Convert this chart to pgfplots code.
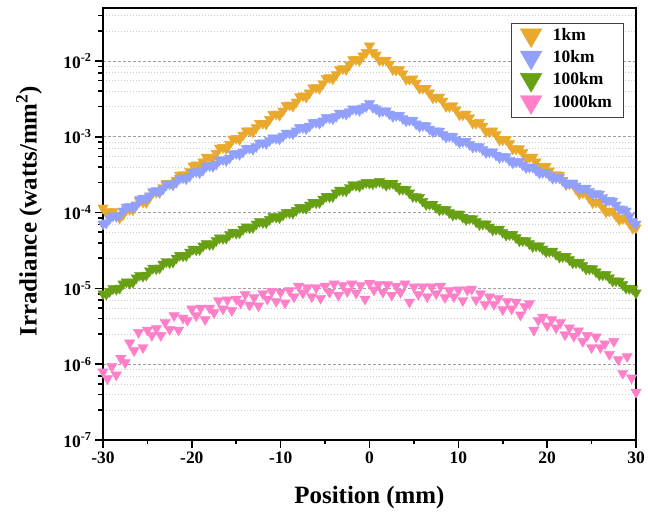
\documentclass[border=0pt]{standalone}
\usepackage{fontspec}
\setmainfont{Liberation Serif}
\usepackage{pgfplots}
\pgfplotsset{compat=1.18}

\definecolor{cA}{RGB}{233,169,45}
\definecolor{cB}{RGB}{144,160,252}
\definecolor{cC}{RGB}{104,160,20}
\definecolor{cD}{RGB}{255,128,200}

\begin{document}
\begin{tikzpicture}
\begin{axis}[
  scale only axis, width=533bp, height=432bp,
  ymode=log,
  xmin=-30, xmax=30, ymin=1e-7, ymax=5e-2,
  axis line style={line width=2.2bp},
  tick align=outside, xtick pos=bottom, ytick pos=left,
  major tick length=8bp, minor tick length=4.5bp,
  every tick/.style={black, line width=1.6bp},
  xtick={-30,-20,...,30},
  minor xtick={-25,-15,...,25},
  xticklabels={\textbf{-30},\textbf{-20},\textbf{-10},\textbf{0},\textbf{10},\textbf{20},\textbf{30}},
  ytick={1e-7,1e-6,1e-5,1e-4,1e-3,1e-2},
  yticklabels={\textbf{10\textsuperscript{-7}},\textbf{10\textsuperscript{-6}},\textbf{10\textsuperscript{-5}},\textbf{10\textsuperscript{-4}},\textbf{10\textsuperscript{-3}},\textbf{10\textsuperscript{-2}}},
  minor ytick={2.5e-7,4e-7,5.5e-7,7e-7,8.5e-7,
               2.5e-6,4e-6,5.5e-6,7e-6,8.5e-6,
               2.5e-5,4e-5,5.5e-5,7e-5,8.5e-5,
               2.5e-4,4e-4,5.5e-4,7e-4,8.5e-4,
               2.5e-3,4e-3,5.5e-3,7e-3,8.5e-3,
               2.5e-2,4e-2},
  ymajorgrids, yminorgrids,
  major grid style={gray!75, line width=0.6bp, dash pattern=on 3bp off 2bp},
  minor grid style={gray!40, line width=0.6bp, dash pattern=on 1bp off 2bp},
  tick label style={font=\fontsize{17.5}{17.5}\selectfont},
  xlabel={\textbf{Position (mm)}},
  ylabel={\textbf{Irradiance (watts/mm\textsuperscript{2})}},
  label style={font=\fontsize{25}{25}\selectfont},
  xlabel style={at={(axis description cs:0.5,-0.132)}, anchor=center},
  ylabel style={at={(axis description cs:-0.139,0.53)}, anchor=center},
  legend style={at={(0.976,0.965)}, anchor=north east, draw=black!75,
    font=\fontsize{17.5}{17.5}\selectfont\bfseries,
    inner xsep=9bp, inner ysep=3bp, row sep=1bp,
    /tikz/every odd column/.append style={column sep=9bp}},
  legend cell align=left,
  legend image post style={mark size=12.5bp},
]
\addplot[only marks, mark=triangle*, mark size=6bp, mark options={rotate=180, fill=cA, draw=cA}] coordinates {
(-30,1.15e-4) (-29.25,1.02e-4) (-28.5,9.12e-5) (-27.75,9.33e-5) (-27,1.10e-4) (-26.25,1.26e-4)
(-25.5,1.38e-4) (-24.75,1.58e-4) (-24,1.86e-4) (-23.25,2.14e-4) (-22.5,2.40e-4) (-21.75,2.69e-4)
(-21,3.16e-4) (-20.25,3.47e-4) (-19.5,4.27e-4) (-18.75,4.68e-4) (-18,5.37e-4) (-17.25,6.03e-4)
(-16.5,7.24e-4) (-15.75,7.94e-4) (-15,9.55e-4) (-14.25,1.05e-3) (-13.5,1.20e-3) (-12.75,1.32e-3)
(-12,1.51e-3) (-11.25,1.70e-3) (-10.5,2.00e-3) (-9.75,2.19e-3) (-9,2.63e-3) (-8.25,2.88e-3)
(-7.5,3.47e-3) (-6.75,3.80e-3) (-6,4.47e-3) (-5.25,5.01e-3) (-4.5,6.03e-3) (-3.75,6.61e-3)
(-3,7.94e-3) (-2.25,8.91e-3) (-1.5,1.05e-2) (-0.75,1.17e-2) (0,1.58e-2)
(0.75,1.20e-2) (1.5,1.02e-2) (2.25,9.12e-3) (3,7.59e-3) (3.75,6.76e-3) (4.5,5.75e-3)
(5.25,5.13e-3) (6,4.37e-3) (6.75,3.80e-3) (7.5,3.31e-3) (8.25,2.95e-3) (9,2.51e-3)
(9.75,2.29e-3) (10.5,1.95e-3) (11.25,1.78e-3) (12,1.51e-3) (12.75,1.38e-3) (13.5,1.17e-3)
(14.25,1.07e-3) (15,9.12e-4) (15.75,8.13e-4) (16.5,6.92e-4) (17.25,6.17e-4) (18,5.37e-4)
(18.75,4.68e-4) (19.5,4.07e-4) (20.25,3.55e-4) (21,3.16e-4) (21.75,2.69e-4) (22.5,2.40e-4)
(23.25,2.04e-4) (24,1.82e-4) (24.75,1.55e-4) (25.5,1.38e-4) (26.25,1.17e-4) (27,1.05e-4)
(27.75,9.12e-5) (28.5,8.32e-5) (29.25,7.24e-5) (30,6.31e-5)
(-29.625,1.00e-4) (-28.875,1.03e-4) (-28.125,8.49e-5) (-27.375,1.09e-4) (-26.625,1.09e-4)
(-25.875,1.41e-4) (-25.125,1.36e-4) (-24.375,1.84e-4) (-23.625,1.84e-4) (-22.875,2.43e-4)
(-22.125,2.34e-4) (-21.375,3.13e-4) (-20.625,3.05e-4) (-19.875,4.14e-4) (-19.125,4.12e-4)
(-18.375,5.38e-4) (-17.625,5.24e-4) (-16.875,7.10e-4) (-16.125,6.98e-4) (-15.375,9.36e-4)
(-14.625,9.22e-4) (-13.875,1.20e-3) (-13.125,1.16e-3) (-12.375,1.51e-3) (-11.625,1.48e-3)
(-10.875,1.98e-3) (-10.125,1.93e-3) (-9.375,2.58e-3) (-8.625,2.53e-3) (-7.875,3.40e-3)
(-7.125,3.34e-3) (-6.375,4.42e-3) (-5.625,4.36e-3) (-4.875,5.91e-3) (-4.125,5.81e-3)
(-3.375,7.78e-3) (-2.625,7.75e-3) (-1.875,1.04e-2) (-1.125,1.02e-2) (-0.375,1.30e-2)
(0.375,1.30e-2) (1.125,1.02e-2) (1.875,1.03e-2) (2.625,7.69e-3) (3.375,7.68e-3)
(4.125,5.75e-3) (4.875,5.82e-3) (5.625,4.37e-3) (6.375,4.37e-3) (7.125,3.27e-3)
(7.875,3.35e-3) (8.625,2.51e-3) (9.375,2.57e-3) (10.125,1.95e-3) (10.875,2.00e-3)
(11.625,1.51e-3) (12.375,1.55e-3) (13.125,1.17e-3) (13.875,1.20e-3) (14.625,9.12e-4)
(15.375,9.23e-4) (16.125,6.92e-4) (16.875,7.00e-4) (17.625,5.31e-4) (18.375,5.38e-4)
(19.125,4.03e-4) (19.875,4.08e-4) (20.625,3.09e-4) (21.375,3.13e-4) (22.125,2.34e-4)
(22.875,2.38e-4) (23.625,1.78e-4) (24.375,1.80e-4) (25.125,1.35e-4) (25.875,1.36e-4)
(26.625,1.02e-4) (27.375,1.05e-4) (28.125,8.02e-5) (28.875,8.32e-5) (29.625,6.23e-5)
};
\addlegendentry{1km}
\addplot[only marks, mark=triangle*, mark size=6bp, mark options={rotate=180, fill=cB, draw=cB}] coordinates {
(-30,7.08e-5) (-29.25,8.32e-5) (-28.5,8.91e-5) (-27.75,1.05e-4) (-27,1.20e-4) (-26.25,1.26e-4)
(-25.5,1.55e-4) (-24.75,1.66e-4) (-24,1.95e-4) (-23.25,2.04e-4) (-22.5,2.40e-4) (-21.75,2.51e-4)
(-21,2.88e-4) (-20.25,3.02e-4) (-19.5,3.47e-4) (-18.75,3.63e-4) (-18,4.17e-4) (-17.25,4.37e-4)
(-16.5,5.01e-4) (-15.75,5.25e-4) (-15,6.03e-4) (-14.25,6.31e-4) (-13.5,7.08e-4) (-12.75,7.41e-4)
(-12,8.32e-4) (-11.25,8.91e-4) (-10.5,9.55e-4) (-9.75,1.02e-3) (-9,1.12e-3) (-8.25,1.20e-3)
(-7.5,1.32e-3) (-6.75,1.38e-3) (-6,1.55e-3) (-5.25,1.62e-3) (-4.5,1.78e-3) (-3.75,1.86e-3)
(-3,2.04e-3) (-2.25,2.14e-3) (-1.5,2.29e-3) (-0.75,2.40e-3) (0,2.75e-3)
(0.75,2.34e-3) (1.5,2.19e-3) (2.25,2.00e-3) (3,1.91e-3) (3.75,1.74e-3) (4.5,1.66e-3)
(5.25,1.48e-3) (6,1.41e-3) (6.75,1.26e-3) (7.5,1.20e-3) (8.25,1.07e-3) (9,1.02e-3)
(9.75,9.12e-4) (10.5,8.71e-4) (11.25,7.94e-4) (12,7.41e-4) (12.75,6.76e-4) (13.5,6.31e-4)
(14.25,5.75e-4) (15,5.50e-4) (15.75,4.90e-4) (16.5,4.68e-4) (17.25,4.27e-4) (18,3.98e-4)
(18.75,3.63e-4) (19.5,3.39e-4) (20.25,3.09e-4) (21,2.88e-4) (21.75,2.63e-4) (22.5,2.45e-4)
(23.25,2.24e-4) (24,2.09e-4) (24.75,1.91e-4) (25.5,1.78e-4) (26.25,1.58e-4) (27,1.45e-4)
(27.75,1.26e-4) (28.5,1.10e-4) (29.25,8.91e-5) (30,7.08e-5)
(-29.625,7.32e-5) (-28.875,9.05e-5) (-28.125,9.22e-5) (-27.375,1.18e-4) (-26.625,1.17e-4)
(-25.875,1.48e-4) (-25.125,1.52e-4) (-24.375,1.90e-4) (-23.625,1.90e-4) (-22.875,2.33e-4)
(-22.125,2.33e-4) (-21.375,2.83e-4) (-20.625,2.80e-4) (-19.875,3.41e-4) (-19.125,3.37e-4)
(-18.375,4.10e-4) (-17.625,4.06e-4) (-16.875,4.92e-4) (-16.125,4.87e-4) (-15.375,5.92e-4)
(-14.625,5.86e-4) (-13.875,7.03e-4) (-13.125,6.88e-4) (-12.375,8.26e-4) (-11.625,8.18e-4)
(-10.875,9.69e-4) (-10.125,9.38e-4) (-9.375,1.12e-3) (-8.625,1.10e-3) (-7.875,1.32e-3)
(-7.125,1.28e-3) (-6.375,1.54e-3) (-5.625,1.51e-3) (-4.875,1.79e-3) (-4.125,1.73e-3)
(-3.375,2.05e-3) (-2.625,1.99e-3) (-1.875,2.33e-3) (-1.125,2.23e-3) (-0.375,2.50e-3)
(0.375,2.45e-3) (1.125,2.15e-3) (1.875,2.20e-3) (2.625,1.86e-3) (3.375,1.92e-3)
(4.125,1.62e-3) (4.875,1.65e-3) (5.625,1.37e-3) (6.375,1.40e-3) (7.125,1.17e-3)
(7.875,1.19e-3) (8.625,9.93e-4) (9.375,1.01e-3) (10.125,8.47e-4) (10.875,8.74e-4)
(11.625,7.29e-4) (12.375,7.44e-4) (13.125,6.21e-4) (13.875,6.33e-4) (14.625,5.34e-4)
(15.375,5.46e-4) (16.125,4.55e-4) (16.875,4.70e-4) (17.625,3.92e-4) (18.375,4.00e-4)
(19.125,3.33e-4) (19.875,3.40e-4) (20.625,2.84e-4) (21.375,2.89e-4) (22.125,2.41e-4)
(22.875,2.46e-4) (23.625,2.06e-4) (24.375,2.10e-4) (25.125,1.75e-4) (25.875,1.76e-4)
(26.625,1.44e-4) (27.375,1.42e-4) (28.125,1.12e-4) (28.875,1.05e-4) (29.625,7.60e-5)
};
\addlegendentry{10km}
\addplot[only marks, mark=triangle*, mark size=6bp, mark options={rotate=180, fill=cC, draw=cC}] coordinates {
(-30,8.51e-6) (-29.25,9.12e-6) (-28.5,9.77e-6) (-27.75,1.15e-5) (-27,1.17e-5) (-26.25,1.38e-5)
(-25.5,1.45e-5) (-24.75,1.70e-5) (-24,1.82e-5) (-23.25,2.09e-5) (-22.5,2.19e-5) (-21.75,2.51e-5)
(-21,2.69e-5) (-20.25,3.02e-5) (-19.5,3.24e-5) (-18.75,3.63e-5) (-18,3.80e-5) (-17.25,4.27e-5)
(-16.5,4.57e-5) (-15.75,5.13e-5) (-15,5.37e-5) (-14.25,6.03e-5) (-13.5,6.31e-5) (-12.75,7.08e-5)
(-12,7.41e-5) (-11.25,8.13e-5) (-10.5,8.71e-5) (-9.75,9.33e-5) (-9,1.00e-4) (-8.25,1.07e-4)
(-7.5,1.15e-4) (-6.75,1.26e-4) (-6,1.35e-4) (-5.25,1.51e-4) (-4.5,1.62e-4) (-3.75,1.82e-4)
(-3,1.95e-4) (-2.25,2.14e-4) (-1.5,2.29e-4) (-0.75,2.40e-4) (0,2.45e-4)
(0.75,2.51e-4) (1.5,2.45e-4) (2.25,2.40e-4) (3,2.24e-4) (3.75,2.04e-4) (4.5,1.82e-4)
(5.25,1.62e-4) (6,1.41e-4) (6.75,1.29e-4) (7.5,1.17e-4) (8.25,1.10e-4) (9,1.00e-4)
(9.75,9.55e-5) (10.5,8.71e-5) (11.25,8.32e-5) (12,7.59e-5) (12.75,7.08e-5) (13.5,6.46e-5)
(14.25,6.03e-5) (15,5.50e-5) (15.75,5.13e-5) (16.5,4.68e-5) (17.25,4.27e-5) (18,3.89e-5)
(18.75,3.63e-5) (19.5,3.31e-5) (20.25,3.09e-5) (21,2.82e-5) (21.75,2.63e-5) (22.5,2.40e-5)
(23.25,2.19e-5) (24,2.00e-5) (24.75,1.82e-5) (25.5,1.66e-5) (26.25,1.51e-5) (27,1.38e-5)
(27.75,1.26e-5) (28.5,1.12e-5) (29.25,1.00e-5) (30,8.71e-6)
(-29.625,8.37e-6) (-28.875,9.92e-6) (-28.125,1.01e-5) (-27.375,1.22e-5) (-26.625,1.21e-5)
(-25.875,1.49e-5) (-25.125,1.50e-5) (-24.375,1.85e-5) (-23.625,1.86e-5) (-22.875,2.25e-5)
(-22.125,2.23e-5) (-21.375,2.73e-5) (-20.625,2.71e-5) (-19.875,3.29e-5) (-19.125,3.26e-5)
(-18.375,3.90e-5) (-17.625,3.83e-5) (-16.875,4.64e-5) (-16.125,4.61e-5) (-15.375,5.51e-5)
(-14.625,5.42e-5) (-13.875,6.48e-5) (-13.125,6.36e-5) (-12.375,7.61e-5) (-11.625,7.38e-5)
(-10.875,8.84e-5) (-10.125,8.57e-5) (-9.375,1.01e-4) (-8.625,9.83e-5) (-7.875,1.17e-4)
(-7.125,1.14e-4) (-6.375,1.37e-4) (-5.625,1.36e-4) (-4.875,1.64e-4) (-4.125,1.63e-4)
(-3.375,1.98e-4) (-2.625,1.94e-4) (-1.875,2.33e-4) (-1.125,2.23e-4) (-0.375,2.50e-4)
(0.375,2.41e-4) (1.125,2.58e-4) (1.875,2.30e-4) (2.625,2.44e-4) (3.375,2.03e-4)
(4.125,2.03e-4) (4.875,1.63e-4) (5.625,1.59e-4) (6.375,1.28e-4) (7.125,1.29e-4)
(7.875,1.08e-4) (8.625,1.10e-4) (9.375,9.29e-5) (10.125,9.59e-5) (10.875,8.09e-5)
(11.625,8.35e-5) (12.375,6.97e-5) (13.125,7.11e-5) (13.875,5.93e-5) (14.625,6.05e-5)
(15.375,5.05e-5) (16.125,5.15e-5) (16.875,4.25e-5) (17.625,4.28e-5) (18.375,3.57e-5)
(19.125,3.64e-5) (19.875,3.04e-5) (20.625,3.10e-5) (21.375,2.59e-5) (22.125,2.64e-5)
(22.875,2.18e-5) (23.625,2.20e-5) (24.375,1.81e-5) (25.125,1.83e-5) (25.875,1.51e-5)
(26.625,1.52e-5) (27.375,1.25e-5) (28.125,1.25e-5) (28.875,1.01e-5) (29.625,9.82e-6)
};
\addlegendentry{100km}
\addplot[only marks, mark=triangle*, mark size=6bp, mark options={rotate=180, fill=cD, draw=cD}] coordinates {
(-30,7.94e-7) (-29.5,6.46e-7) (-29,9.33e-7) (-28.5,7.24e-7) (-28,1.20e-6) (-27.5,1.05e-6)
(-27,1.91e-6) (-26.5,1.51e-6) (-26,2.63e-6) (-25.5,1.66e-6) (-25,2.82e-6) (-24.5,2.40e-6)
(-24,2.95e-6) (-23.5,2.40e-6) (-23,3.55e-6) (-22.5,2.88e-6) (-22,4.37e-6) (-21.5,2.82e-6)
(-21,4.07e-6) (-20.5,3.80e-6) (-20,5.37e-6) (-19.5,4.37e-6) (-19,5.50e-6) (-18.5,3.89e-6)
(-18,5.50e-6) (-17.5,4.79e-6) (-17,6.92e-6) (-16.5,5.37e-6) (-16,7.08e-6) (-15.5,5.13e-6)
(-15,7.24e-6) (-14.5,6.46e-6) (-14,8.32e-6) (-13.5,6.03e-6) (-13,7.59e-6) (-12.5,5.89e-6)
(-12,8.51e-6) (-11.5,7.24e-6) (-11,9.12e-6) (-10.5,6.76e-6) (-10,8.91e-6) (-9.5,6.46e-6)
(-9,9.33e-6) (-8.5,7.76e-6) (-8,1.07e-5) (-7.5,8.71e-6) (-7,1.02e-5) (-6.5,7.76e-6)
(-6,1.02e-5) (-5.5,7.41e-6) (-5,1.07e-5) (-4.5,8.91e-6) (-4,1.15e-5) (-3.5,8.13e-6)
(-3,1.10e-5) (-2.5,9.12e-6) (-2,1.15e-5) (-1.5,8.71e-6) (-1,1.10e-5) (-0.5,7.24e-6)
(0,1.17e-5) (0.5,9.55e-6) (1,1.12e-5) (1.5,8.91e-6) (2,1.12e-5) (2.5,8.13e-6)
(3,1.07e-5) (3.5,8.91e-6) (4,1.15e-5) (4.5,6.61e-6) (5,1.05e-5) (5.5,8.32e-6)
(6,1.05e-5) (6.5,7.76e-6) (7,1.05e-5) (7.5,8.51e-6) (8,1.07e-5) (8.5,7.59e-6)
(9,9.33e-6) (9.5,7.76e-6) (10,9.55e-6) (10.5,6.92e-6) (11,9.55e-6) (11.5,9.77e-6)
(12,7.08e-6) (12.5,8.51e-6) (13,6.17e-6) (13.5,7.76e-6) (14,6.17e-6) (14.5,7.41e-6)
(15,5.25e-6) (15.5,6.76e-6) (16,5.37e-6) (16.5,6.61e-6) (17,4.47e-6) (17.5,5.75e-6)
(18,6.31e-6) (18.5,2.82e-6) (19,3.80e-6) (19.5,4.17e-6) (20,3.24e-6) (20.5,3.89e-6)
(21,3.02e-6) (21.5,3.55e-6) (22,2.45e-6) (22.5,3.02e-6) (23,2.34e-6) (23.5,2.75e-6)
(24,2.00e-6) (24.5,2.40e-6) (25,1.66e-6) (25.5,2.29e-6) (26,1.66e-6) (26.5,1.86e-6)
(27,1.35e-6) (27.5,2.00e-6) (28,1.15e-6) (28.5,7.59e-7) (29,1.26e-6) (29.5,6.61e-7)
(30,4.27e-7)
};
\addlegendentry{1000km}
\coordinate (sw) at (rel axis cs:0,0);
\coordinate (ne) at (rel axis cs:1,1);
\end{axis}
\pgfresetboundingbox
\path ([shift={(-103bp,-77bp)}]sw) rectangle ([shift={(12bp,8bp)}]ne);
\end{tikzpicture}
\end{document}
